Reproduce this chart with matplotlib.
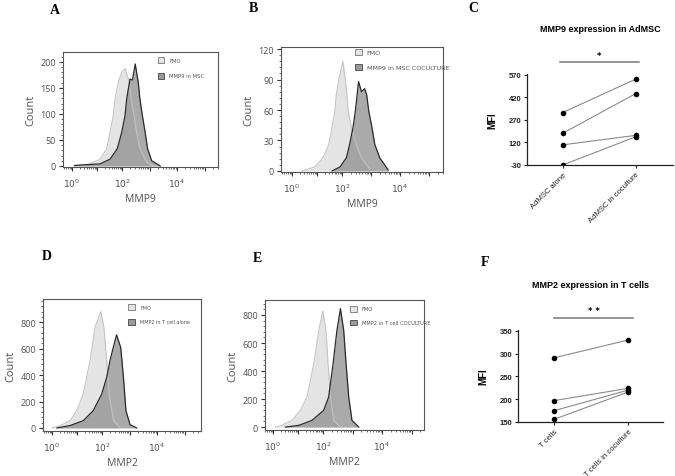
import matplotlib
matplotlib.use('Agg')
import matplotlib.pyplot as plt
from matplotlib.patches import Patch
import matplotlib.ticker as mticker
import numpy as np

plt.rcParams['axes.unicode_minus'] = False

# ---------- histogram data (log10 intensity, count) ----------
a_fmo_x = [0.1, 0.72, 1.12, 1.39, 1.52, 1.65, 1.72, 1.85, 1.99, 2.11, 2.27, 2.33, 2.44, 2.53, 2.65, 2.9, 3.14]
a_fmo_y = [0, 4, 13, 33, 65, 97, 129, 161, 180, 187, 161, 129, 97, 65, 33, 7, 0]
a_mmp_x = [0.1, 1.12, 1.52, 1.81, 1.99, 2.11, 2.17, 2.29, 2.38, 2.48, 2.59, 2.65, 2.74, 2.84, 2.93, 3.08, 3.39]
a_mmp_y = [1, 4, 13, 33, 65, 97, 129, 167, 165, 196, 161, 129, 97, 65, 33, 10, 0]

b_fmo_x = [0.4, 0.91, 1.24, 1.47, 1.6, 1.71, 1.77, 1.88, 2.03, 2.11, 2.17, 2.21, 2.32, 2.49, 2.67, 2.95]
b_fmo_y = [0, 4, 13, 26, 43, 59, 75, 91, 108, 91, 75, 59, 43, 26, 13, 2]
b_mmp_x = [1.6, 1.92, 2.15, 2.26, 2.38, 2.46, 2.52, 2.57, 2.67, 2.78, 2.85, 2.92, 3.03, 3.13, 3.3, 3.59]
b_mmp_y = [0, 4, 13, 26, 43, 59, 75, 88, 78, 81, 75, 59, 43, 26, 13, 1]

d_fmo_x = [0.0, 0.32, 0.72, 0.99, 1.25, 1.52, 1.72, 1.95, 2.07, 2.17, 2.26, 2.42, 2.66]
d_fmo_y = [0, 18, 55, 131, 257, 508, 760, 880, 760, 508, 257, 55, 0]
d_mmp_x = [0.2, 0.72, 1.25, 1.65, 1.99, 2.17, 2.29, 2.41, 2.53, 2.68, 2.78, 2.87, 3.02, 3.26]
d_mmp_y = [0, 18, 55, 131, 257, 382, 508, 609, 704, 609, 382, 131, 25, 0]

e_fmo_x = [0.1, 0.36, 0.76, 1.09, 1.36, 1.63, 1.83, 1.99, 2.1, 2.17, 2.25, 2.36, 2.59]
e_fmo_y = [0, 12, 48, 119, 214, 452, 690, 828, 690, 452, 214, 48, 0]
e_mmp_x = [0.5, 1.03, 1.56, 2.02, 2.19, 2.34, 2.47, 2.59, 2.7, 2.78, 2.87, 2.98, 3.21]
e_mmp_y = [0, 12, 48, 119, 214, 452, 690, 845, 690, 452, 214, 48, 0]

# ---------- paired MFI data ----------
c_groups = ['AdMSC alone', 'AdMSC in coculture']
c_before = [319, 181, 104, -30]
c_after = [541, 445, 167, 158]
c_ticks = [-30, 120, 270, 420, 570]

f_groups = ['T cells', 'T cells in coculture']
f_before = [291, 197, 175, 156]
f_after = [330, 224, 220, 216]
f_ticks = [150, 200, 250, 300, 350]

W, H = 675, 477
fig = plt.figure(figsize=(W / 100, H / 100), dpi=100)


def box(l, r, t, b):
    return [l / W, 1 - b / H, (r - l) / W, (b - t) / H]


FMO_FACE = '#e4e4e4'
FMO_EDGE = '#c4c4c4'
DARK_FACE = '#8a8a8a'
TXT = '#505050'
HFONT = 'Open Sans'


def cyto_scale(r):
    # log axis whose upper decades are a bit wider than the lower ones (as in the cytometer export)
    def fwd(v):
        L = np.log10(np.clip(v, 1e-6, None))
        return np.where(L < 2, L, 2 + (L - 2) * r)

    def inv(u):
        u = np.asarray(u, dtype=float)
        return 10 ** np.where(u < 2, u, 2 + (u - 2) / r)
    return fwd, inv


def histo(rect, fx, fy, mx, my, xlim, r, ylim, yticks, yminor, xlabel, labels,
          leg_at, leg_fs, leg_gap):
    ax = fig.add_axes(rect)
    fxv = 10 ** np.array(fx)
    mxv = 10 ** np.array(mx)
    ax.fill_between(fxv, fy, color=FMO_FACE, lw=0)
    ax.plot(fxv, fy, color=FMO_EDGE, lw=0.8)
    ax.fill_between(mxv, my, color=DARK_FACE, alpha=0.72, lw=0)
    ax.plot(mxv, my, color='#2a2a2a', lw=0.9)
    ax.set_xscale('function', functions=cyto_scale(r))
    ax.set_xlim(10 ** xlim[0], 10 ** xlim[1])
    ax.set_ylim(*ylim)
    ax.set_xticks([1, 10, 100, 1e3, 1e4, 1e5])
    ax.set_xticklabels(['$10^0$', '', '$10^2$', '', '$10^4$', ''])
    ax.xaxis.set_minor_locator(mticker.LogLocator(base=10, subs=np.arange(2, 10), numticks=20))
    ax.xaxis.set_minor_formatter(mticker.NullFormatter())
    ax.set_yticks(yticks)
    ax.yaxis.set_minor_locator(mticker.MultipleLocator(yminor))
    ax.tick_params(axis='both', which='major', direction='out', length=3, width=0.8,
                   labelsize=6.5, labelcolor=TXT, color='#333333', pad=2)
    ax.tick_params(axis='both', which='minor', direction='out', length=1.6, width=0.5, color='#333333')
    ax.tick_params(axis='x', pad=4)
    for s in ax.spines.values():
        s.set_color('#555555')
        s.set_linewidth(0.8)
    ax.set_xlabel(xlabel, fontsize=7.5, color=TXT, family=HFONT, labelpad=3)
    ax.set_ylabel('Count', fontsize=8, color=TXT, family=HFONT, labelpad=3)
    for t in ax.get_yticklabels():
        t.set_family(HFONT)
    handles = [Patch(facecolor=FMO_FACE, edgecolor='#777777', lw=0.6),
               Patch(facecolor='#9a9a9a', edgecolor='#444444', lw=0.6)]
    lg = ax.legend(handles, labels, loc='upper left', bbox_to_anchor=leg_at, fontsize=leg_fs,
                   frameon=False, handlelength=5 / leg_fs, handleheight=5 / leg_fs,
                   borderaxespad=0, borderpad=0, labelspacing=leg_gap / leg_fs,
                   handletextpad=3.5 / leg_fs)
    for t in lg.get_texts():
        t.set_color('#555555')
    return ax


histo(box(63, 218, 53, 168), a_fmo_x, a_fmo_y, a_mmp_x, a_mmp_y, (-0.36, 5.49), 1.1, (-2, 219),
      [0, 50, 100, 150, 200], 10, 'MMP9', ['FMO', 'MMP9 in MSC'], (0.61, 0.955), 3.8, 7.0)
histo(box(281, 443, 48, 173), b_fmo_x, b_fmo_y, b_mmp_x, b_mmp_y, (-0.44, 5.48), 1.16, (-1, 122),
      [0, 30, 60, 90, 120], 6, 'MMP9', ['FMO', 'MMP9 in MSC COCULTURE'], (0.457, 0.985), 4.6, 6.3)
histo(box(43, 201, 300, 432), d_fmo_x, d_fmo_y, d_mmp_x, d_mmp_y, (-0.36, 5.6), 1.1, (-23, 975),
      [0, 200, 400, 600, 800], 40, 'MMP2', ['FMO', 'MMP2 in T cell alone'], (0.54, 0.96), 3.5, 6.5)
histo(box(265, 424, 301, 431), e_fmo_x, e_fmo_y, e_mmp_x, e_mmp_y, (-0.32, 5.42), 1.18, (-21, 907),
      [0, 200, 400, 600, 800], 40, 'MMP2', ['FMO', 'MMP2 in T cell COCULTURE'], (0.535, 0.955), 3.7, 5.8)


def paired(rect, groups, before, after, ticks, ylim, xlim, title, title_y, bar, bar_y, star, star_y):
    ax = fig.add_axes(rect)
    for b, a in zip(before, after):
        ax.plot([0, 1], [b, a], color='#8a8a8a', lw=0.8, zorder=1)
    ax.scatter([0] * len(before), before, s=9, color='black', zorder=2)
    ax.scatter([1] * len(after), after, s=9, color='black', zorder=2)
    ax.set_xlim(*xlim)
    ax.set_ylim(*ylim)
    ax.set_yticks(ticks)
    ax.set_xticks([0, 1])
    ax.set_xticklabels(groups, rotation=45, ha='right', rotation_mode='anchor',
                       fontsize=5.5, family='Liberation Sans')
    for t in ax.get_yticklabels():
        t.set_fontsize(5.5)
        t.set_family('Liberation Sans')
        t.set_fontweight('bold')
    ax.spines['top'].set_visible(False)
    ax.spines['right'].set_visible(False)
    for s in ['left', 'bottom']:
        ax.spines[s].set_linewidth(0.9)
        ax.spines[s].set_color('#222222')
    ax.tick_params(axis='both', length=2.5, width=0.8, pad=1.5, color='#222222', labelcolor='#222222')
    ax.set_ylabel('MFI', fontsize=7, fontweight='bold', family='Liberation Sans', labelpad=8)
    ax.set_title(title, fontsize=6.5, fontweight='bold', family='Liberation Sans', y=title_y, pad=0)
    ax.plot(bar, [bar_y, bar_y], color='#777777', lw=1.1, clip_on=False)
    ax.text(sum(bar) / 2, star_y, star, fontsize=6, ha='center', va='center', fontweight='bold')
    return ax


paired(box(527, 673, 75, 166), c_groups, c_before, c_after, c_ticks, (-30, 575), (-0.49, 1.51),
       'MMP9 expression in AdMSC', 1.47, [-0.04, 1.04], 655, '*', 695)
paired(box(518, 663, 331, 423), f_groups, f_before, f_after, f_ticks, (150, 352), (-0.49, 1.47),
       'MMP2 expression in T cells', 1.47, [0.0, 1.07], 378, '* *', 394)

for letter, x, y in [('A', 55, 10), ('B', 253, 8), ('C', 473, 8),
                     ('D', 47, 256), ('E', 257, 258), ('F', 485, 263)]:
    fig.text(x / W, 1 - y / H, letter, fontsize=10, fontweight='bold', family='Liberation Serif',
             ha='center', va='center')

fig.savefig('out.png', dpi=100)
